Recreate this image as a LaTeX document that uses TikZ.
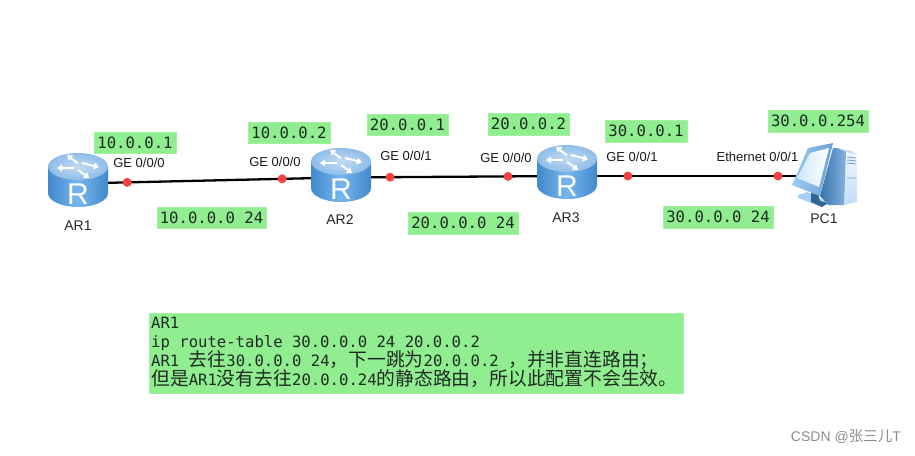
\documentclass[tikz,border=0pt]{standalone}
\usepackage{fontspec}
\setmainfont{Liberation Sans}
\newfontfamily\monof{DejaVu Sans Mono}
\newfontfamily\cjkf{Noto Sans CJK SC}
\usetikzlibrary{calc}
\definecolor{lg}{HTML}{90EE90}
\definecolor{rdark}{HTML}{4288CC}
\definecolor{rmid}{HTML}{74B6EE}
\definecolor{rtop}{HTML}{8FBDE8}
\definecolor{dotred}{HTML}{F5413F}
\definecolor{ink}{HTML}{1E2A22}
\newcommand{\cj}[1]{{\cjkf\fontsize{18.8}{19}\selectfont #1}}
\tikzset{
  x=1pt,y=-1pt,
  greenbox/.style={fill=lg,draw=lg!85!white,line width=.5pt,inner sep=0pt,font=\monof\fontsize{15.6}{17}\selectfont,text=ink,anchor=center},
  notetext/.style={anchor=base west,inner sep=0pt,text=ink,font=\monof\fontsize{15.6}{17}\selectfont},
  lbl/.style={font=\fontsize{13}{14}\selectfont,text=black!90,inner sep=0pt},
  devname/.style={font=\fontsize{14}{15}\selectfont,text=black!85,inner sep=0pt},
  link/.style={line width=2.3pt,black},
  iface/.style={circle,fill=dotred,inner sep=0pt,minimum size=9pt},
  devhold/.style={inner sep=0pt,minimum width=60pt,minimum height=54pt}
}
\newcommand{\gbox}[5]{\node[greenbox,minimum width=#3-#1,minimum height=#4-#2] (#5) at ({(#1+#3)/2},{(#2+#4)/2})}
\newcommand{\routericon}[1]{%
 \begin{scope}[shift={(#1)}]
  \path[left color=rdark,right color=rdark,middle color=rmid]
    (-30,-13) -- (-30,13) arc[start angle=180,end angle=0,x radius=30,y radius=14] -- (30,-13) -- cycle;
  \path[inner color=rtop!55!white,outer color=rtop] (0,-13.5) ellipse[x radius=30,y radius=13.5];
  \foreach \a/\b/\c/\d in {0/-16.5/-7/-22, 4/-17/16/-14, -4/-12/-16/-12, 0/-10/7/-5}{
    \draw[white,line width=2pt] (\a,\b) -- (\c,\d);
    \fill[white] ($(\c,\d)!-3.6pt!90:(\a,\b)$) -- ($(\c,\d)!3.6pt!90:(\a,\b)$) -- ($(\c,\d)!-5pt!(\a,\b)$) -- cycle;
  }
  \node[white,font=\fontsize{30}{30}\selectfont,inner sep=0pt] at (0,14.5) {R};
 \end{scope}}
\begin{document}
\begin{tikzpicture}
\useasboundingbox (0,0) rectangle (915,455);
% devices (holders)
\node[devhold] (ar1) at (78,183.5) {};
\node[devhold] (ar2) at (341,177.5) {};
\node[devhold] (ar3) at (567,176) {};
\node[devhold] (pc1) at (825,176) {};
% links
\draw[link] (ar1.center) -- (ar2.center);
\draw[link] (ar2.center) -- (ar3.center);
\draw[link] (ar3.center) -- (pc1.center);
% icons
\routericon{78,180}
\routericon{341,175}
\routericon{567,172}
% PC
\begin{scope}[shift={(792,143)}]
  \path[fill=rmid!45!white] (45,5) -- (60,8) -- (65,12) -- (54,9) -- cycle;
  \path[top color=blue!4!white,bottom color=rmid!45!white] (54,9) -- (65,12) -- (65,59) -- (52,62) -- cycle;
  \path[left color=rdark!85!black,right color=rdark!65!white] (41,5) -- (45,5) -- (54,9) -- (52,62) -- (36,62) -- (28,53) -- cycle;
  \draw[rdark!75!white,line width=.9pt] (55,14) -- (64,15) (55,17) -- (64,18) (55,20) -- (64,21) (55,35) -- (64,35);
  \path[fill=rmid!65!white] (6,52) -- (15,49) -- (36,60) -- (30,64) -- (6,55) -- cycle;
  \path[fill=rdark!75!black] (19,50) -- (26,51) -- (28,58) -- (36,60) -- (30,64) -- (19,59) -- cycle;
  \path[left color=rmid!70!white,right color=rdark!80!white] (16,5) -- (41,0) -- (28,53) -- (0,42) -- cycle;
  \path[left color=rmid!35!white,right color=white] (18,10) -- (37,5) -- (27,44) -- (5,35) -- cycle;
\end{scope}
% interface dots
\node[iface] (d1) at ($(ar1.center)!0.187!(ar2.center)$) {};
\node[iface] (d2) at ($(ar1.center)!0.776!(ar2.center)$) {};
\node[iface] (d3) at ($(ar2.center)!0.217!(ar3.center)$) {};
\node[iface] (d4) at ($(ar2.center)!0.739!(ar3.center)$) {};
\node[iface] (d5) at ($(ar3.center)!0.236!(pc1.center)$) {};
\node[iface] (d6) at ($(ar3.center)!0.818!(pc1.center)$) {};
% port labels
\node[lbl] (l1) at (139,163) {GE 0/0/0};
\node[lbl] (l2) at (275,162) {GE 0/0/0};
\node[lbl] (l3) at (406,156) {GE 0/0/1};
\node[lbl] (l4) at (506,158) {GE 0/0/0};
\node[lbl] (l5) at (632,157) {GE 0/0/1};
\node[lbl] (l6) at (757.5,156.5) {Ethernet 0/0/1};
% device names
\node[devname] (n1) at (78,226) {AR1};
\node[devname] (n2) at (340,220) {AR2};
\node[devname] (n3) at (566,218) {AR3};
\node[devname] (n4) at (824,219) {PC1};
% green labels
\gbox{94}{132}{176}{153}{g1} {10.0.0.1};
\gbox{248}{122}{330}{143}{g2} {10.0.0.2};
\gbox{367}{114}{448}{135}{g3} {20.0.0.1};
\gbox{488}{113}{569}{135}{g4} {20.0.0.2};
\gbox{605}{120}{687}{142}{g5} {30.0.0.1};
\gbox{768}{110}{868}{132}{g6} {30.0.0.254};
\gbox{157}{207}{266}{228}{g7} {10.0.0.0 24};
\gbox{408}{212}{518}{234}{g8} {20.0.0.0 24};
\gbox{663}{206}{773}{228}{g9} {30.0.0.0 24};
% note
\node[fill=lg,draw=lg!85!white,line width=.5pt,inner sep=0pt,minimum width=534pt,minimum height=80pt] (note) at (416,353) {};
\node[notetext] (t1) at (151,328) {AR1};
\node[notetext] (t2) at (151,347) {ip route-table 30.0.0.0 24 20.0.0.2};
\node[notetext] (t3) at (151,366) {AR1 \cj{去往}30.0.0.0 24\cj{，下一跳为}20.0.0.2 \cj{，并非直连路由；}};
\node[notetext] (t4) at (151,385) {\cj{但是}AR1\cj{没有去往}20.0.0.24\cj{的静态路由，所以此配置不会生效。}};
% watermark
\node[anchor=east,inner sep=0pt,text=black!45,font=\fontsize{14}{16}\selectfont] (wm) at (901,437) {CSDN @{\cjkf\fontsize{14.5}{16}\selectfont 张三儿}T};
\end{tikzpicture}
\end{document}
